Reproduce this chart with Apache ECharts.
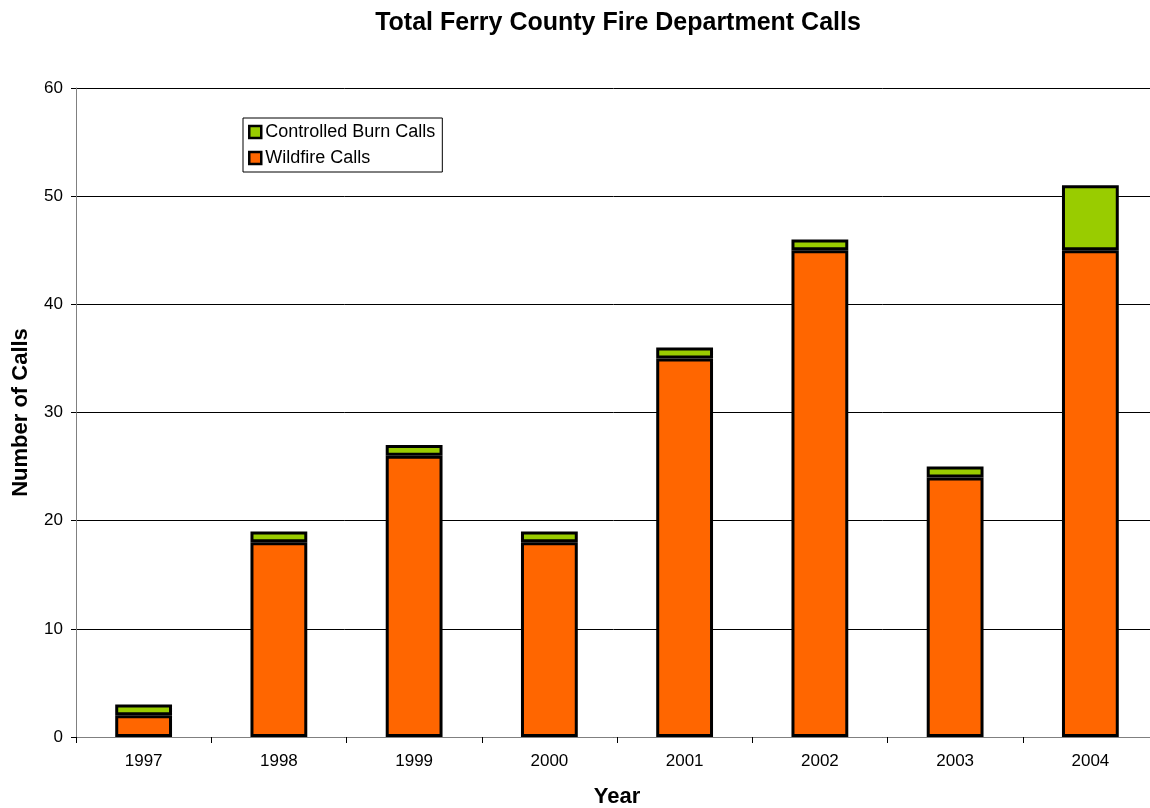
<!DOCTYPE html>
<html><head><meta charset="utf-8">
<script src="https://cdn.jsdelivr.net/npm/echarts@6/dist/echarts.min.js"></script>
<style>html,body{margin:0;padding:0;background:#fff}#c{width:1150px;height:808px}</style>
</head><body><div id="c"></div>
<script>
const years = ['1997','1998','1999','2000','2001','2002','2003','2004'];
const wildfireCalls = [2, 18, 26, 18, 35, 45, 24, 45];
const controlledBurnCalls = [1, 1, 1, 1, 1, 1, 1, 6];
const yTicks = {min: 0, max: 60, interval: 10};

const chart = echarts.init(document.getElementById('c'));
const font = 'Liberation Sans, Arial, sans-serif';
chart.setOption({
  backgroundColor: '#fff',
  animation: false,
  title: {
    text: 'Total Ferry County Fire Department Calls',
    left: 613, top: 6, textAlign: 'center',
    textStyle: {fontFamily: font, fontSize: 25, fontWeight: 'bold', color: '#000'}
  },
  legend: {
    orient: 'vertical', left: 243, top: 118,
    data: ['Controlled Burn Calls', 'Wildfire Calls'],
    backgroundColor: '#fff', borderColor: '#000', borderWidth: 1,
    padding: [5, 7, 5, 5], itemGap: 8,
    itemWidth: 12, itemHeight: 12, icon: 'rect',
    itemStyle: {borderColor: '#000', borderWidth: 2.5},
    textStyle: {fontFamily: font, fontSize: 18, color: '#000', padding: [0, 0, 0, -1]}
  },
  grid: {left: 76, top: 88, width: 1082, height: 649, outerBoundsMode: 'none', containLabel: false},
  xAxis: {
    type: 'category', data: years,
    name: 'Year', nameLocation: 'middle', nameGap: 49,
    nameTextStyle: {fontFamily: font, fontSize: 22, fontWeight: 'bold', color: '#000', padding: [0, 0, 0, -1082 + 2*(617-76)]},
    axisLine: {lineStyle: {color: '#808080', width: 1}},
    axisTick: {show: true, alignWithLabel: false, length: 6, lineStyle: {color: '#000'}},
    axisLabel: {fontFamily: font, fontSize: 17, color: '#000', margin: 16}
  },
  yAxis: {
    type: 'value', min: yTicks.min, max: yTicks.max, interval: yTicks.interval,
    name: 'Number of Calls', nameLocation: 'middle', nameGap: 44,
    nameTextStyle: {fontFamily: font, fontSize: 22, fontWeight: 'bold', color: '#000'},
    axisLine: {show: true, lineStyle: {color: '#808080', width: 1}},
    axisTick: {show: true, length: 5, lineStyle: {color: '#000'}},
    axisLabel: {fontFamily: font, fontSize: 17, color: '#000', margin: 13},
    splitLine: {lineStyle: {color: '#000', width: 1}}
  },
  series: [
    {
      name: 'Wildfire Calls', type: 'bar', stack: 'calls', data: wildfireCalls,
      barWidth: '42%',
      itemStyle: {color: '#FF6600', borderColor: '#000', borderWidth: 3}
    },
    {
      name: 'Controlled Burn Calls', type: 'bar', stack: 'calls', data: controlledBurnCalls,
      barWidth: '42%',
      itemStyle: {color: '#99CC00', borderColor: '#000', borderWidth: 3}
    }
  ]
});
</script></body></html>
